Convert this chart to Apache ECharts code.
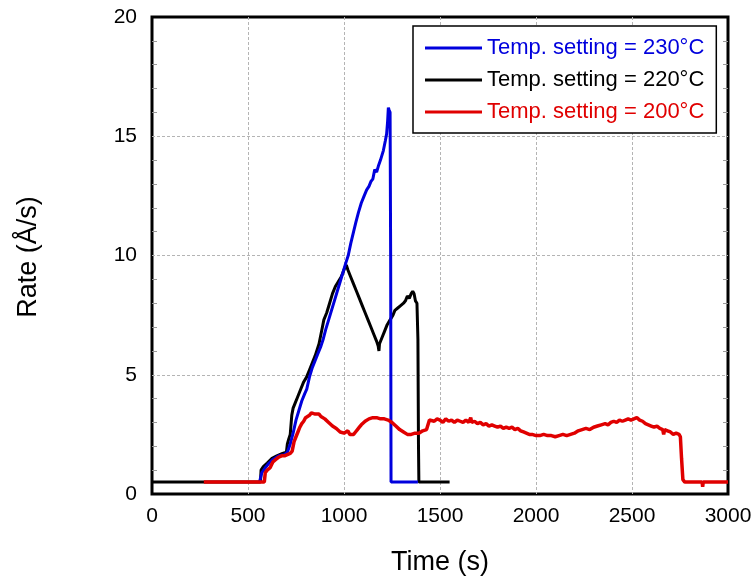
<!DOCTYPE html>
<html>
<head>
<meta charset="utf-8">
<script src="https://cdn.jsdelivr.net/npm/echarts@6/dist/echarts.min.js"></script>
<style>html,body{margin:0;padding:0;background:#fff}#c{width:755px;height:581px}</style>
</head>
<body>
<div id="c"></div>
<script>
const seriesNames = ['Temp. setting = 230°C', 'Temp. setting = 220°C', 'Temp. setting = 200°C'];
const xTicks = [0, 500, 1000, 1500, 2000, 2500, 3000];
const yTicks = [0, 5, 10, 15, 20];

const blue230 = [[560,0.5],[572,0.9],[590,1.1],[610,1.3],[630,1.45],[660,1.6],[690,1.65],[705,1.75],[720,2.1],[735,2.55],[750,3.1],[765,3.5],[780,3.9],[795,4.2],[806,4.4],[820,4.9],[835,5.3],[850,5.6],[865,5.9],[880,6.2],[892,6.5],[905,6.9],[920,7.3],[935,7.7],[950,8.1],[965,8.5],[980,8.9],[995,9.3],[1010,9.7],[1022,10.0],[1035,10.5],[1050,11.0],[1062,11.4],[1075,11.8],[1090,12.2],[1105,12.5],[1118,12.75],[1130,12.9],[1140,13.1],[1150,13.2],[1160,13.6],[1170,13.5],[1179,13.75],[1190,14.0],[1205,14.4],[1215,14.8],[1222,15.1],[1227,15.6],[1231,16.2],[1235,16.1],[1240,16.0],[1243,10],[1245,0.5],[1385,0.5]];

const black220 = [[0,0.5],[565,0.5],[568,1.0],[580,1.15],[600,1.3],[625,1.5],[650,1.6],[680,1.7],[700,1.75],[705,2.1],[712,2.3],[720,2.5],[728,3.3],[735,3.6],[745,3.8],[760,4.1],[775,4.4],[790,4.7],[805,4.9],[820,5.2],[835,5.5],[850,5.8],[858,6.0],[870,6.3],[885,6.9],[895,7.3],[910,7.6],[925,8.0],[940,8.4],[955,8.7],[970,8.9],[985,9.1],[995,9.3],[1005,9.5],[1012,9.6],[1020,9.4],[1035,9.1],[1050,8.8],[1065,8.5],[1080,8.2],[1095,7.9],[1110,7.6],[1125,7.3],[1140,7.0],[1155,6.7],[1170,6.4],[1178,6.2],[1182,6.0],[1185,6.3],[1195,6.5],[1210,6.8],[1225,7.1],[1240,7.3],[1255,7.5],[1265,7.7],[1280,7.8],[1295,7.9],[1310,8.0],[1320,8.1],[1330,8.3],[1340,8.2],[1350,8.4],[1358,8.5],[1365,8.4],[1372,8.1],[1380,8.0],[1385,6.5],[1388,2],[1390,0.5],[1550,0.5]];

const red200 = [[270,0.5],[585,0.5],[590,0.9],[600,1.0],[615,1.1],[630,1.35],[645,1.45],[660,1.55],[675,1.6],[690,1.6],[705,1.65],[720,1.7],[730,1.8],[740,2.2],[750,2.4],[760,2.6],[770,2.8],[780,2.95],[790,3.05],[800,3.2],[810,3.25],[820,3.3],[830,3.4],[840,3.45],[850,3.35],[860,3.3],[870,3.35],[880,3.25],[890,3.2],[900,3.15],[910,3.1],[920,3.0],[930,2.95],[940,2.85],[950,2.8],[960,2.75],[970,2.7],[980,2.6],[990,2.65],[1000,2.55],[1010,2.55],[1020,2.65],[1030,2.5],[1040,2.45],[1050,2.5],[1060,2.6],[1070,2.7],[1080,2.8],[1090,2.9],[1100,2.95],[1110,3.05],[1120,3.1],[1130,3.15],[1140,3.15],[1150,3.2],[1160,3.15],[1170,3.2],[1180,3.2],[1190,3.15],[1200,3.2],[1210,3.15],[1220,3.1],[1230,3.1],[1240,3.05],[1250,3.0],[1260,2.95],[1270,2.85],[1280,2.8],[1290,2.7],[1300,2.65],[1310,2.6],[1320,2.55],[1330,2.5],[1340,2.55],[1350,2.5],[1360,2.45],[1370,2.55],[1380,2.6],[1390,2.55],[1400,2.6],[1410,2.65],[1420,2.6],[1430,2.7],[1440,2.75],[1445,3.1],[1455,3.15],[1470,3.05],[1485,3.15],[1500,3.1],[1515,3.0],[1530,3.15],[1545,3.05],[1560,3.1],[1575,3.0],[1590,3.1],[1605,3.05],[1620,3.0],[1635,3.1],[1650,3.0],[1660,3.2],[1665,3.0],[1680,3.05],[1695,2.95],[1710,3.0],[1725,2.9],[1740,2.95],[1755,2.85],[1770,2.9],[1785,2.85],[1800,2.8],[1815,2.85],[1830,2.75],[1845,2.8],[1860,2.75],[1875,2.8],[1890,2.7],[1905,2.75],[1920,2.65],[1935,2.6],[1950,2.55],[1965,2.5],[1980,2.5],[2000,2.45],[2020,2.45],[2040,2.5],[2060,2.45],[2080,2.45],[2100,2.4],[2120,2.45],[2140,2.5],[2160,2.45],[2180,2.5],[2200,2.55],[2220,2.65],[2240,2.7],[2260,2.75],[2280,2.7],[2300,2.8],[2320,2.85],[2340,2.9],[2360,2.95],[2375,2.9],[2390,3.0],[2405,3.05],[2420,3.0],[2435,3.1],[2450,3.05],[2465,3.1],[2480,3.15],[2495,3.1],[2510,3.15],[2525,3.2],[2540,3.1],[2555,3.05],[2570,2.95],[2585,2.9],[2600,2.85],[2615,2.8],[2630,2.85],[2645,2.75],[2660,2.7],[2665,2.5],[2670,2.7],[2685,2.65],[2700,2.6],[2715,2.5],[2730,2.55],[2745,2.5],[2752,2.4],[2758,1.5],[2765,0.6],[2775,0.5],[2865,0.5],[2868,0.3],[2871,0.5],[3000,0.5]];

const colors = ['#0000dd', '#000000', '#e00000'];
const FONT = '"Liberation Sans", Arial, sans-serif';

const chart = echarts.init(document.getElementById('c'), null, {renderer: 'canvas'});

function lineSeries(name, data, color, width, z) {
  return {
    name: name, type: 'line', data: data, showSymbol: false, symbol: 'none',
    lineStyle: {color: color, width: width}, itemStyle: {color: color},
    z: z, animation: false
  };
}

const splitStyle = {show: true, showMinLine: false, showMaxLine: false, lineStyle: {color: '#b4b4b4', type: [3, 2], width: 1}};
const plain = v => String(v);

chart.setOption({
  animation: false,
  grid: {left: 152, right: 27, top: 17, bottom: 87, show: true, borderColor: '#000', borderWidth: 3, backgroundColor: 'transparent'},
  xAxis: {
    type: 'value', min: xTicks[0], max: xTicks[xTicks.length - 1], interval: 500,
    axisLine: {show: false}, axisTick: {show: false},
    axisLabel: {fontFamily: FONT, fontSize: 21, color: '#000', margin: 12, formatter: plain},
    splitLine: splitStyle
  },
  yAxis: [{
    type: 'value', min: yTicks[0], max: yTicks[yTicks.length - 1], interval: 5,
    axisLine: {show: false}, axisTick: {show: false, inside: true},
    minorTick: {show: true, splitNumber: 5, length: 5, lineStyle: {color: '#999', width: 1}},
    axisLabel: {fontFamily: FONT, fontSize: 21, color: '#000', margin: 15, formatter: plain},
    splitLine: splitStyle
  }, {
    type: 'value', position: 'right', min: 0, max: 20, interval: 5,
    axisLine: {show: false}, axisTick: {show: false, inside: true},
    minorTick: {show: true, splitNumber: 5, length: 5, lineStyle: {color: '#999', width: 1}},
    axisLabel: {show: false}, splitLine: {show: false}
  }],
  legend: {
    left: 413, top: 26, orient: 'vertical',
    padding: [11, 12, 10, 12], itemGap: 10,
    itemWidth: 57, itemHeight: 3, icon: 'rect',
    borderColor: '#000', borderWidth: 1.5, backgroundColor: '#fff',
    textStyle: {fontFamily: FONT, fontSize: 22},
    data: [
      {name: seriesNames[0], textStyle: {color: colors[0]}},
      {name: seriesNames[1], textStyle: {color: colors[1]}},
      {name: seriesNames[2], textStyle: {color: colors[2]}}
    ]
  },
  graphic: [
    {type: 'text', x: 29, y: 257, rotation: Math.PI / 2, style: {text: 'Rate (Å/s)', font: '27px ' + FONT, fill: '#000', align: 'center', verticalAlign: 'middle'}},
    {type: 'text', x: 440, y: 563, style: {text: 'Time (s)', font: '27px ' + FONT, fill: '#000', align: 'center', verticalAlign: 'middle'}}
  ],
  series: [
    lineSeries(seriesNames[1], black220, colors[1], 3, 2),
    lineSeries(seriesNames[0], blue230, colors[0], 3, 3),
    lineSeries(seriesNames[2], red200, colors[2], 3.5, 4)
  ]
});
</script>
</body>
</html>
